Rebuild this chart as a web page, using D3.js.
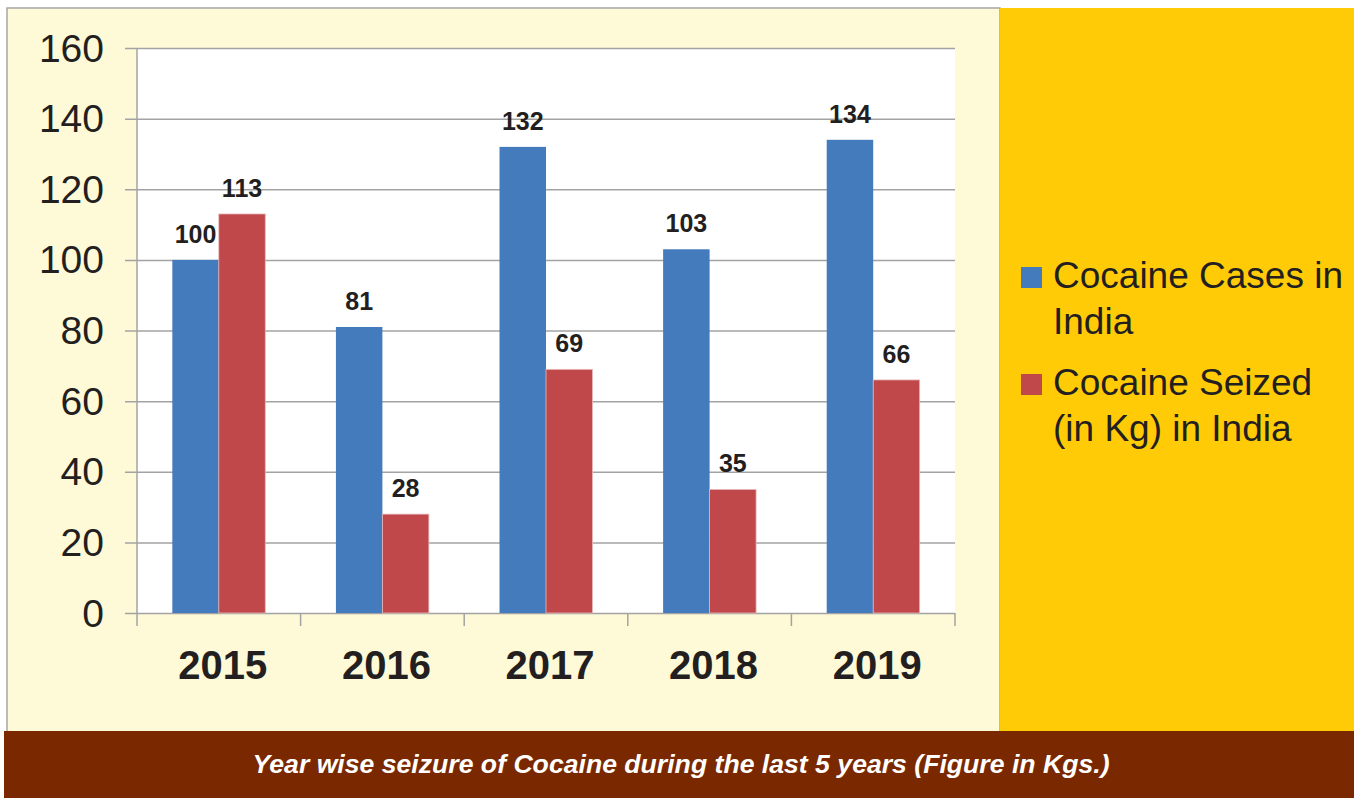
<!DOCTYPE html>
<html>
<head>
<meta charset="utf-8">
<script src="https://cdn.jsdelivr.net/npm/d3@7"></script>
<style>
  body { margin: 0; background: #fff; }
  text { font-family: "Liberation Sans", Arial, sans-serif; }
</style>
</head>
<body>
<script>
// chart data
var years = ["2015", "2016", "2017", "2018", "2019"];
var casesValues = [100, 81, 132, 103, 134];
var seizedValues = [113, 28, 69, 35, 66];
var seriesNames = ["Cocaine Cases in India", "Cocaine Seized (in Kg) in India"];
var legendLines = [["Cocaine Cases in", "India"], ["Cocaine Seized", "(in Kg) in India"]];
var yTicks = [0, 20, 40, 60, 80, 100, 120, 140, 160];
var caption = "Year wise seizure of Cocaine during the last 5 years (Figure in Kgs.)";

var W = 1354, H = 798;
var colors = ["#447bbd", "#c0474a"];

var svg = d3.select("body")
	.append("svg")
	.attr("width", W)
	.attr("height", H);

// panels
svg.append("rect").attr("x", 7).attr("y", 8).attr("width", 993).attr("height", 724)
	.style("fill", "#fef9d6").style("stroke", "#a6a6a6").style("stroke-width", 1.5);
svg.append("rect").attr("x", 1000).attr("y", 8).attr("width", 354).attr("height", 724)
	.style("fill", "#ffcb07");
svg.append("rect").attr("x", 4).attr("y", 731).attr("width", 1350).attr("height", 67)
	.style("fill", "#7a2800");

var plot = {left: 137, right: 955, top: 48, bottom: 613};

svg.append("rect")
	.attr("x", plot.left).attr("y", plot.top)
	.attr("width", plot.right - plot.left).attr("height", plot.bottom - plot.top)
	.style("fill", "#ffffff");

var y = d3.scaleLinear().domain([0, 160]).range([plot.bottom, plot.top]);
var x = d3.scaleBand().domain(years).range([plot.left, plot.right]).paddingInner(0).paddingOuter(0);
var xs = d3.scaleBand().domain([0, 1]).range([0, x.bandwidth()]).paddingInner(0).paddingOuter(0.76);

// gridlines + y labels
var yAxis = d3.axisLeft(y)
	.tickValues(yTicks)
	.tickSizeInner(plot.right - 125)
	.tickSizeOuter(0)
	.tickPadding(21);

var gy = svg.append("g")
	.attr("transform", "translate(" + plot.right + ",0)")
	.call(yAxis);
gy.select(".domain").remove();
gy.selectAll(".tick line").style("stroke", "#a3a3a3").style("stroke-width", 1.5);
gy.selectAll(".tick text")
	.style("font-size", "39px")
	.style("fill", "#231f20")
	.attr("dy", "13px");

// vertical axis
svg.append("line")
	.attr("x1", plot.left).attr("x2", plot.left)
	.attr("y1", plot.top).attr("y2", plot.bottom + 13)
	.style("stroke", "#a3a3a3").style("stroke-width", 1.5);

// category separators
var edges = years.map(function(d) { return x(d); }).concat([plot.right]);
svg.selectAll(".sep").data(edges.slice(1)).enter().append("line")
	.attr("x1", function(d) { return d; }).attr("x2", function(d) { return d; })
	.attr("y1", plot.bottom).attr("y2", plot.bottom + 13)
	.style("stroke", "#a3a3a3").style("stroke-width", 1.5);

// x labels
var xAxis = d3.axisBottom(x).tickSize(0).tickPadding(0);
var gx = svg.append("g")
	.attr("transform", "translate(4," + plot.bottom + ")")
	.call(xAxis);
gx.select(".domain").remove();
gx.selectAll(".tick text")
	.attr("dy", null)
	.attr("y", 66)
	.style("font-size", "40px")
	.style("font-weight", "bold")
	.style("fill", "#231f20");

// bars
var series = [casesValues, seizedValues];
for (var s = 0; s < series.length; s++) {
	var vals = series[s];
	var g = svg.append("g");
	g.selectAll("rect").data(years).enter().append("rect")
		.attr("x", function(d) { return x(d) + xs(s); })
		.attr("y", function(d, i) { return y(vals[i]); })
		.attr("width", xs.bandwidth())
		.attr("height", function(d, i) { return plot.bottom - y(vals[i]); })
		.style("fill", colors[s])
		.style("stroke", s === 1 ? "#e8b8b8" : "none")
		.style("stroke-width", 0.8);
	g.selectAll("text").data(years).enter().append("text")
		.attr("x", function(d) { return x(d) + xs(s) + xs.bandwidth() / 2; })
		.attr("y", function(d, i) { return y(vals[i]) - 17; })
		.attr("text-anchor", "middle")
		.style("font-size", "25px")
		.style("font-weight", "bold")
		.style("fill", "#231f20")
		.text(function(d, i) { return vals[i]; });
}

// legend
var leg = svg.append("g");
for (var k = 0; k < seriesNames.length; k++) {
	var baseY = 288 + k * 107;
	leg.append("rect")
		.attr("x", 1021).attr("y", baseY - 21)
		.attr("width", 21).attr("height", 21)
		.style("fill", colors[k]);
	leg.append("text")
		.attr("x", 1053).attr("y", baseY)
		.style("font-size", "37px")
		.style("fill", "#231f20")
		.selectAll("tspan").data(legendLines[k]).enter().append("tspan")
		.attr("x", 1053)
		.attr("dy", function(d, i) { return i === 0 ? 0 : 46; })
		.text(function(d) { return d; });
}

// caption
svg.append("text")
	.attr("x", 681).attr("y", 773)
	.attr("text-anchor", "middle")
	.attr("textLength", 857)
	.attr("lengthAdjust", "spacingAndGlyphs")
	.style("font-size", "25px")
	.style("font-weight", "bold")
	.style("font-style", "italic")
	.style("fill", "#ffffff")
	.text(caption);
</script>
</body>
</html>
